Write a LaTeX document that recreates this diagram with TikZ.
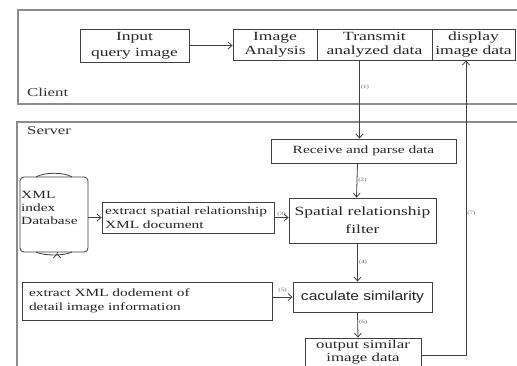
\documentclass[tikz,border=0pt]{standalone}
\usepackage{fontspec}
\setmainfont[FakeStretch=1.4]{Liberation Serif}
\newfontfamily\sansf[FakeStretch=1.2]{Liberation Sans}
\usetikzlibrary{arrows.meta,calc}
\tikzset{
  px/.style={x=1pt,y=-1pt},
  region/.style={draw=black!45,line width=1.6pt},
  box/.style={draw=black!75,line width=0.8pt,inner sep=1pt,align=center,text=black!85,font=\fontsize{12.5}{15}\selectfont},
  conn/.style={draw=black!75,line width=0.8pt,-{Straight Barb[length=4pt,width=7pt]}},
  plain/.style={draw=black!75,line width=0.8pt},
  steplabel/.style={font=\fontsize{5}{6}\selectfont,text=black!60,inner sep=1pt},
  regionlabel/.style={font=\fontsize{12}{14}\selectfont,text=black!80,anchor=west,inner sep=0pt}
}
\begin{document}
\begin{tikzpicture}[px]
\useasboundingbox (0,0) rectangle (517,365);
\fill[white] (0,0) rectangle (517,365);
\clip (0,0) rectangle (517,365);
% regions
\draw[region] (18,10) rectangle (530,104);
\node[regionlabel] (clientlbl) at (27,92) {Client};
\draw[region] (17,122) rectangle (530,380);
\node[regionlabel] (serverlbl) at (27,131) {Server};
% client row
\node[box,minimum width=109pt,minimum height=33pt,font=\fontsize{12.5}{16}\selectfont] (inp) at (134.5,45.5) {Input\\query image};
\node[box,minimum width=84pt,minimum height=31pt,font=\fontsize{12.5}{14}\selectfont] (ana) at (275,44.5) {Image\\Analysis};
\node[box,minimum width=115pt,minimum height=31pt,font=\fontsize{12.5}{14}\selectfont] (tra) at (374.5,44.5) {Transmit\\analyzed data};
\node[box,minimum width=83pt,minimum height=31pt,font=\fontsize{12.5}{14}\selectfont] (dis) at (473.5,44.5) {display\\image data};
% server
\node[box,minimum width=185pt,minimum height=24pt,font=\fontsize{11}{13}\selectfont] (rec) at (363.5,151) {Receive and parse data};
\node[box,minimum width=147pt,minimum height=45pt,font=\fontsize{12.5}{18}\selectfont] (spa) at (362.5,220.5) {Spatial relationship\\filter};
\node[minimum width=68pt,minimum height=77pt,inner sep=0pt] (db) at (54,214.5) {};
\draw[plain,rounded corners=4pt] (20,177) -- (20,252) -- (88,252) -- (88,177) -- cycle;
\draw[plain] (36,177) .. controls (44,172) and (64,172) .. (72,177);
\draw[plain] (36,252) .. controls (44,256) and (64,256) .. (72,252);
\node[anchor=north west,align=left,inner sep=0pt,text=black!85,font=\fontsize{11}{13}\selectfont] (dbtxt) at (21,191) {XML\\index\\Database};
\node[box,minimum width=172pt,minimum height=31pt,align=left,text width=166pt,font=\fontsize{11}{14}\selectfont] (exs) at (188,217.5) {extract spatial relationship\\XML document};
\node[box,minimum width=250pt,minimum height=38pt,align=left,text width=236pt,font=\fontsize{11}{14}\selectfont] (exx) at (147,301) {extract XML dodement of\\detail image information};
\node[box,minimum width=139pt,minimum height=30pt,font=\sansf\fontsize{13}{15}\selectfont] (cal) at (362.5,297) {caculate similarity};
\node[box,minimum width=116pt,minimum height=34pt] (out) at (363,355) {};
\node[align=center,inner sep=0pt,text=black!85,font=\fontsize{12}{13.5}\selectfont] (outtxt) at (363,352) {output similar\\image data};
% connectors
\draw[conn] (inp.east) -- (ana.west |- inp.east);
\draw[conn] ($(tra.south)+(-15,0)$) -- node[steplabel,right,pos=0.35] (l1) {(1)} ($(rec.north)+(-4,0)$);
\draw[conn] ($(rec.south)+(-6,0)$) -- node[steplabel,right] (l2) {(2)} ($(spa.north)+(-6,0)$);
\draw[conn] (db.east |- exs.west) -- (exs.west);
\draw[conn] (exs.east) -- node[steplabel,above] (l3) {(3)} (spa.west |- exs.east);
\draw[conn] ($(db.south)+(3,0)$) -- ($(db.south)+(3,0)$ |- exx.north);
\draw[conn] ($(spa.south)+(-5,0)$) -- node[steplabel,right] (l4) {(4)} ($(cal.north)+(-5,0)$);
\draw[conn] ($(exx.east)+(0,-4)$) -- node[steplabel,above=3pt] (l5) {(5)} (cal.west);
\draw[conn] ($(cal.south)+(-5,0)$) -- node[steplabel,right,pos=0.4] (l6) {(6)} ($(out.north)+(-5,0)$);
\draw[conn] (out.east) -| node[steplabel,right,pos=0.74] (l7) {(7)} ($(dis.south)+(-7.5,0)$);
\end{tikzpicture}
\end{document}
